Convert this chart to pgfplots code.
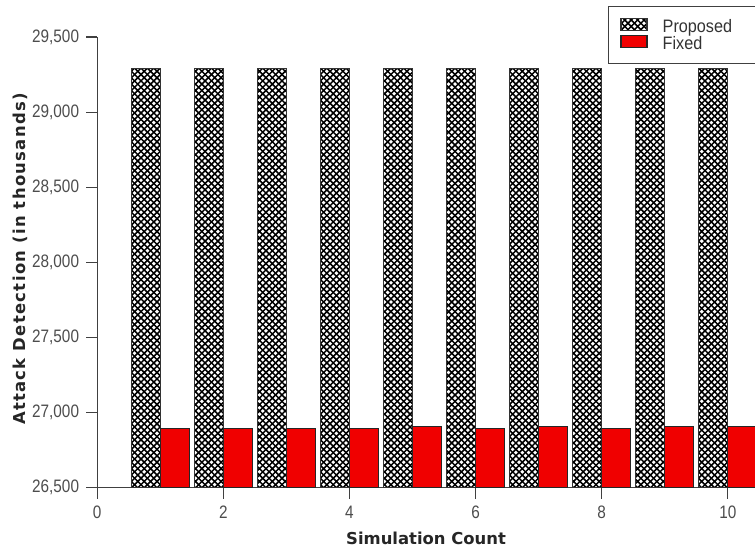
\documentclass[border=0pt]{standalone}
\usepackage{fontspec}
\setmainfont{Liberation Sans}
\newfontfamily\mytickfont[FakeStretch=0.85]{Liberation Sans}
\newfontfamily\legfont[FakeStretch=0.9]{Liberation Sans}
\newfontfamily\labelfont{DejaVu Sans}
\newfontfamily\ylabfont[LetterSpace=8]{DejaVu Sans}
\usepackage{pgfplots}
\pgfplotsset{compat=1.18}
\usetikzlibrary{patterns}
\pgfdeclarepatternformonly{diagcross}{\pgfqpoint{-1pt}{-1pt}}{\pgfqpoint{4pt}{4pt}}{\pgfqpoint{3.2pt}{3.2pt}}{%
  \pgfsetlinewidth{0.75pt}%
  \pgfpathmoveto{\pgfqpoint{-0.1pt}{-0.1pt}}\pgfpathlineto{\pgfqpoint{3.3pt}{3.3pt}}%
  \pgfpathmoveto{\pgfqpoint{-0.1pt}{3.3pt}}\pgfpathlineto{\pgfqpoint{3.3pt}{-0.1pt}}%
  \pgfusepath{stroke}}
\definecolor{fixedred}{HTML}{F00000}
\begin{document}
\begin{tikzpicture}
\begin{axis}[
  scale only axis,
  width=328.5pt, height=225pt,
  xmin=0, xmax=10.43,
  ymin=26500, ymax=29500,
  axis lines=left,
  axis line style={-, draw=black!75, line width=0.6pt},
  tick style={draw=black!75, line width=0.6pt},
  tick align=outside,
  major tick length=5.5pt,
  xtick={0,2,4,6,8,10},
  ytick={26500,27000,27500,28000,28500,29000,29500},
  minor tick num=0,
  scaled y ticks=false,
  /pgf/number format/assume math mode=true,
  /pgf/number format/fixed,
  /pgf/number format/1000 sep={,},
  ticklabel style={font=\mytickfont\fontsize{9}{10}\selectfont, text=black!70},
  xlabel={\textbf{Simulation Count}},
  ylabel={\ylabfont\textbf{Attack Detection (in thousands)}},
  label style={font=\labelfont\fontsize{8.2}{9}\selectfont, text=black!85},
  xlabel style={at={(rel axis cs:0.5,0)}, anchor=center, yshift=-25.5pt},
  ylabel style={at={(rel axis cs:0,0.5)}, anchor=center, yshift=38.5pt, xshift=2pt},
  ybar,
  bar width=0.46,
  legend style={at={(rel axis cs:0,1)}, anchor=north west, xshift=255pt, yshift=15.5pt,
    font=\legfont\fontsize{9}{10}\selectfont, text=black!80, draw=black!75, line width=0.6pt,
    inner xsep=6pt, inner ysep=5.5pt, row sep=0pt, cells={anchor=west},
    nodes={inner ysep=0.5pt, inner xsep=3.5pt, text height=6.5pt, text depth=1pt},
    /tikz/every odd column/.append style={column sep=4pt}},
  legend image code/.code={\draw[#1, line width=0.6pt] (0pt,-1.8pt) rectangle (13pt,4.2pt);},
  clip=true,
]
\addplot[draw=black!80, line width=0.5pt, pattern=diagcross, pattern color=black, bar shift=-0.23]
  coordinates {(1,29290) (2,29290) (3,29290) (4,29290) (5,29290) (6,29290) (7,29290) (8,29290) (9,29290) (10,29290)};
\addplot[draw=black!85, line width=0.5pt, fill=fixedred, bar shift=0.23]
  coordinates {(1,26895) (2,26895) (3,26895) (4,26895) (5,26907) (6,26895) (7,26907) (8,26895) (9,26907) (10,26907)};
\legend{Proposed\hspace*{12pt}, Fixed}
\coordinate (sw) at (rel axis cs:0,0);
\coordinate (ne) at (rel axis cs:1,1);
\end{axis}
\pgfresetboundingbox
\path ([xshift=-48.5pt,yshift=-30.5pt]sw) rectangle ([yshift=18.5pt]ne);
\end{tikzpicture}
\end{document}
